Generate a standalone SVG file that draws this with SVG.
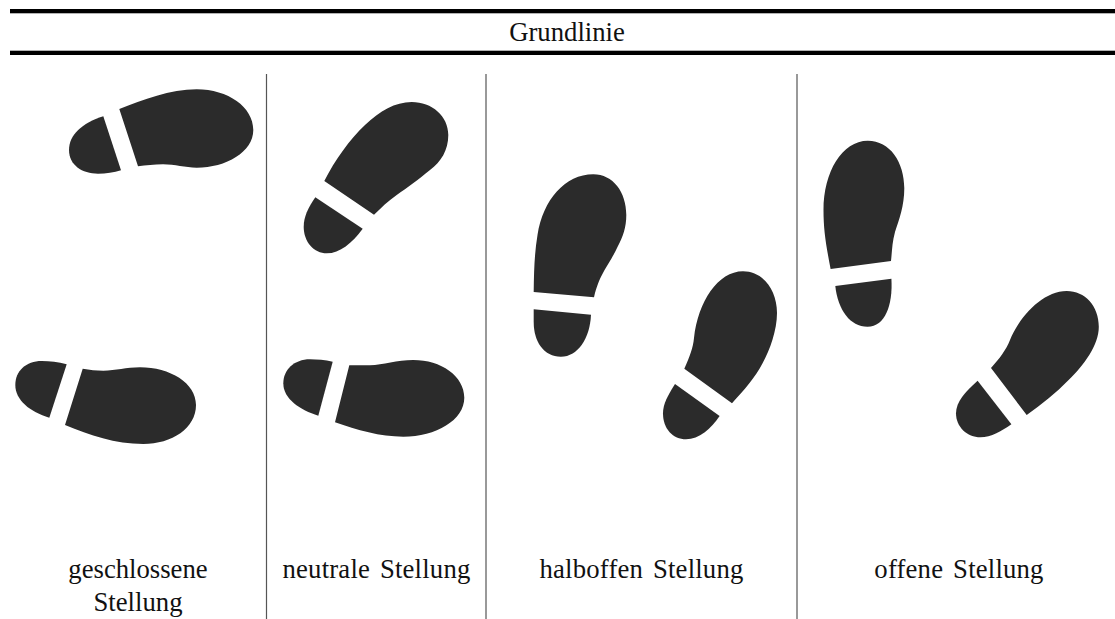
<svg xmlns="http://www.w3.org/2000/svg" width="1115" height="619" viewBox="0 0 1115 619">
<style>
.rule{fill:#000}
.sep{stroke:#555;stroke-width:1.2;fill:none}
.shoe{fill:#2b2b2b}
text{font-family:"Liberation Serif","Times New Roman",serif;font-size:26.7px;fill:#111;text-anchor:middle}
.wide{letter-spacing:.2px;word-spacing:3px}
</style>
<rect width="1115" height="619" fill="#fff"/>
<g id="grundlinie">
<rect class="rule" x="10" y="9" width="1105" height="4.3"/>
<rect class="rule" x="10" y="50.7" width="1105" height="4.3"/>
<text x="567" y="41">Grundlinie</text>
</g>
<g id="separators">
<line class="sep" x1="266.5" y1="74" x2="266.5" y2="619"/>
<line class="sep" x1="486" y1="74" x2="486" y2="619"/>
<line class="sep" x1="797" y1="74" x2="797" y2="619"/>
</g>
<g id="shoe-geschlossen-oben">
<path class="shoe" d="M103.3 116.3C82 123 69 135 69 150C69 165 82 173.7 98 173.7C106 173.7 114 172.5 121 170.3Z"/>
<path class="shoe" d="M119.3 109C143 100 170 89.3 196.7 89.3C228 89.3 253.3 107 253.3 130C253.3 152 226 167.7 196.7 167.7C185 167.7 175 164.3 163 164.3C154 164.3 146 165.5 138 166.3Z"/>
</g>
<g id="shoe-geschlossen-unten">
<path class="shoe" d="M66.7 364.3C58 362 50 361 41.7 361C26 361 15.3 371 15.3 385C15.3 400 30 412 49.3 417.7Z"/>
<path class="shoe" d="M82.7 368.7C90 370 96 370.7 103.3 370.7C116 370.7 126 367.3 140 367.3C170 367.3 196 383 196 405C196 428 172 444 143.3 444C115 444 90 435 65 425Z"/>
</g>
<g id="shoe-neutral-oben">
<path class="shoe" d="M324.3 181C335 160 350 139 365 125C380 111 395 102 411.7 102C432 102 448.3 116 448.3 135C448.3 150 441 162 430 170C418 180 408 187 396.7 195C388 201 381 208 374 214.7Z"/>
<path class="shoe" d="M315.3 197.3C308 208 303.7 217 303.7 226.7C303.7 242 314 253.3 326.7 253.3C340 253.3 352 243 362.7 228.7Z"/>
</g>
<g id="shoe-neutral-unten">
<path class="shoe" d="M332.7 361.7C325 360 317 359.3 310 359.3C294 359.3 283.3 370 283.3 383.3C283.3 399 300 410 318.3 415.7Z"/>
<path class="shoe" d="M349.3 365.3L370 365.3C383 365 397 360 413.3 360C441 360 464.3 376 464.3 397.7C464.3 420 436 436.7 403.3 436.7C380 436.7 357 430 335 422.3Z"/>
</g>
<g id="shoe-halboffen-links">
<path class="shoe" d="M533.7 292C534 270 534.5 253 537.5 235C543 200 565 174.3 593.3 174.3C613 174.3 626.3 192 626.3 215C626.3 227 623 237 617.6 246.7C610 264 600 272 594 297.3Z"/>
<path class="shoe" d="M533.7 309.3L591 314.7C590 338 578 356.7 560.8 356.7C544 356.7 533.7 342 533.7 322Z"/>
</g>
<g id="shoe-halboffen-rechts">
<path class="shoe" d="M684.3 368.7C690 356 693 348 694 338C698 302 718 271.3 743 271.3C763 271.3 777 290 777 313C777 330 770 350 762.7 363C755 378 744 390 732 403.3Z"/>
<path class="shoe" d="M675 384C668 395 663 404 663 413.3C663 429 673 439.3 686 439.3C699 439.3 711 429 719.6 416Z"/>
</g>
<g id="shoe-offen-links">
<path class="shoe" d="M830.6 269C826 245 823.5 230 823.5 210C823.5 172 842 140.7 867.8 140.7C890 140.7 904.3 162 904.3 188.3C904.3 206 899 220 895 232C892 243 892 252 891 261Z"/>
<path class="shoe" d="M835.3 286L891.4 278.7C893 305 885 326.7 867.5 326.7C850 326.7 838 310 835.3 286Z"/>
</g>
<g id="shoe-offen-rechts">
<path class="shoe" d="M991 368C1000 358 1006 350 1010 340C1020 316 1043 291 1066.7 291C1085 291 1098.8 306 1098.8 326.7C1098.8 345 1084 365 1068.6 380C1056 393 1042 404 1026.7 415Z"/>
<path class="shoe" d="M977.6 380.7C965 392 956 402 956 413.3C956 427 967 437.3 980.4 437.3C991 437.3 1002 431 1011.4 424.3Z"/>
</g>
<g id="labels">
<text x="138" y="578">geschlossene</text>
<text x="138" y="611">Stellung</text>
<text class="wide" x="376.5" y="578">neutrale Stellung</text>
<text class="wide" x="641.5" y="578">halboffen Stellung</text>
<text class="wide" x="959" y="578">offene Stellung</text>
</g>
</svg>
